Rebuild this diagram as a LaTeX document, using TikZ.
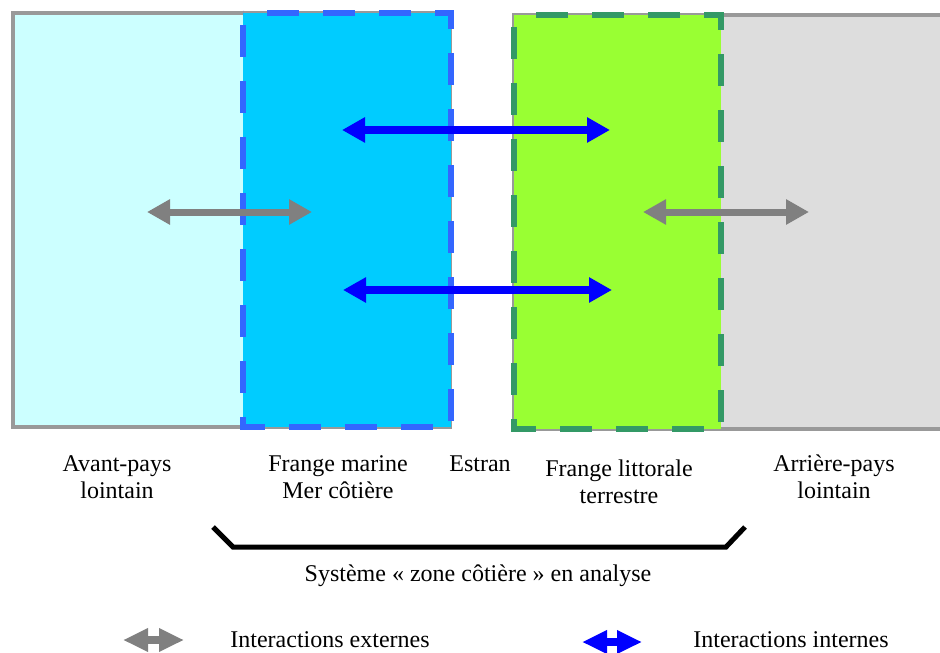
\documentclass[tikz,border=0pt]{standalone}
\usepackage{fontspec}
\setmainfont{Liberation Serif}
\usetikzlibrary{arrows.meta}

\definecolor{avantfill}{HTML}{CCFFFF}
\definecolor{marinefill}{HTML}{00CCFF}
\definecolor{marineedge}{HTML}{3366FF}
\definecolor{terrefill}{HTML}{99FF33}
\definecolor{terreedge}{HTML}{339966}
\definecolor{arrierefill}{HTML}{DDDDDD}
\definecolor{zoneedge}{HTML}{999999}

\tikzset{
  zone/.style={draw=zoneedge, line width=2pt},
  frange/.style={line width=3.3pt, dash pattern=on 16pt off 12pt, dash phase=-6pt},
  extarrow/.style={draw=gray, line width=3.5pt,
    {Triangle[length=11.5pt,width=12pt]}-{Triangle[length=11.5pt,width=12pt]}},
  intarrow/.style={draw=blue, line width=4pt,
    {Triangle[length=11.5pt,width=12pt]}-{Triangle[length=11.5pt,width=12pt]}},
  keyarrow/.style={line width=4pt,
    {Triangle[length=12.5pt,width=11pt]}-{Triangle[length=12.5pt,width=11pt]}},
  zonetext/.style={align=center, font=\fontsize{12}{13.5}\selectfont},
}

\begin{document}
\begin{tikzpicture}[x=0.5pt,y=-0.5pt]

            \useasboundingbox (0,0) rectangle (940,652);

            % Avant-pays (light cyan) and frange marine (dashed blue)
            \filldraw[zone, fill=avantfill] (13,13) rectangle (450,427);
            \filldraw[frange, fill=marinefill, draw=marineedge] (243,13) rectangle (451,427);

            % Arriere-pays (grey) and frange littorale (dashed green)
            \filldraw[zone, fill=arrierefill] (514,15) rectangle (960,429);
            \filldraw[frange, fill=terrefill, draw=terreedge] (514,15) rectangle (721,429);

            % Interaction end points
            \coordinate (extAa) at (147,212);
            \coordinate (extAb) at (312,212);
            \coordinate (extBa) at (643,212);
            \coordinate (extBb) at (809,212);
            \coordinate (intAa) at (342,130);
            \coordinate (intAb) at (610,130);
            \coordinate (intBa) at (343,290);
            \coordinate (intBb) at (612,290);

            \draw[extarrow] (extAa) -- (extAb);
            \draw[extarrow] (extBa) -- (extBb);
            \draw[intarrow] (intAa) -- (intAb);
            \draw[intarrow] (intBa) -- (intBb);

            % Zone labels
            \node[zonetext] (avant) at (117,477) {Avant-pays\\lointain};
            \node[zonetext] (marine) at (338,477) {Frange marine\\Mer côtière};
            \node[zonetext] (estran) at (480,464) {Estran};
            \node[zonetext] (littoral) at (619,482) {Frange littorale\\terrestre};
            \node[zonetext] (arriere) at (834,477) {Arrière-pays\\lointain};

            % Bracket for the system
            \coordinate (brA) at (213,527);
            \coordinate (brB) at (233,547);
            \coordinate (brC) at (726,547);
            \coordinate (brD) at (745,527);
            \draw[line width=2.5pt] (brA) -- (brB) -- (brC) -- (brD);
            \node[zonetext] (systeme) at (478,576) {Système « zone côtière » en analyse};

            % Legend
            \coordinate (keyExtA) at (123,640);
            \coordinate (keyExtB) at (184,640);
            \coordinate (keyIntA) at (582,642);
            \coordinate (keyIntB) at (642,642);
            \draw[keyarrow, draw=gray] (keyExtA) -- (keyExtB);
            \draw[keyarrow, draw=blue] (keyIntA) -- (keyIntB);
            \node[zonetext, anchor=west, inner sep=0pt] (keyExt) at (230,640) {Interactions externes};
            \node[zonetext, anchor=west, inner sep=0pt] (keyInt) at (693,640) {Interactions internes};

\end{tikzpicture}
\end{document}
